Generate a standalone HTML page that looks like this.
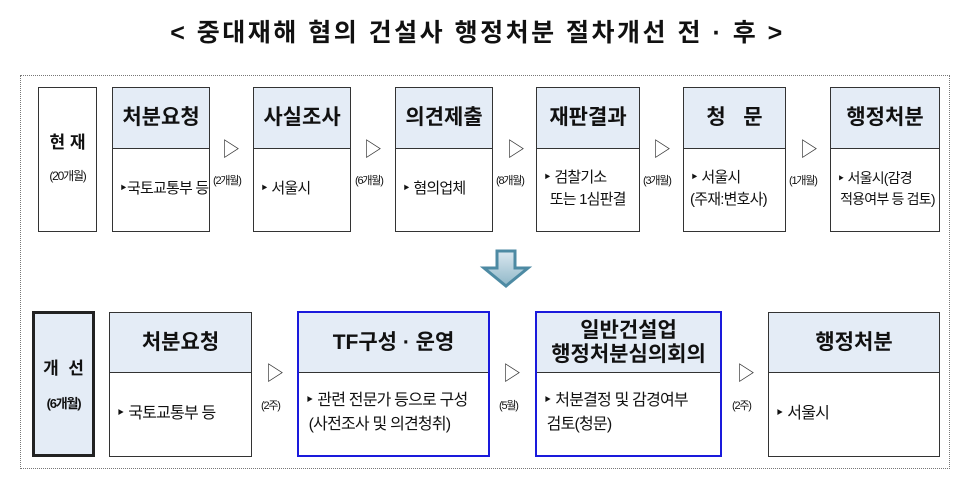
<!DOCTYPE html>
<html><head><meta charset="utf-8"><style>
*{margin:0;padding:0;box-sizing:border-box}
body{width:955px;height:477px;background:#fff;position:relative;overflow:hidden;font-family:"Liberation Sans","Noto Sans CJK KR","NanumGothic",sans-serif;color:#111}
.a{position:absolute}
.box{position:absolute;border:1.5px solid #333;background:#fff}
.hd{position:absolute;left:0;right:0;top:0;background:#e4ecf6;border-bottom:1.5px solid #333;display:flex;align-items:center;justify-content:center;font-weight:bold;font-size:21px;text-align:center;line-height:1.1}
.bd{position:absolute;left:0;right:0;bottom:0;display:flex;align-items:center;padding-left:6px;font-size:15px;line-height:1.5;letter-spacing:-0.8px}
.tri{position:absolute;font-size:20px;color:#333;transform:scaleX(0.9)}
.lb{position:absolute;font-size:11px;letter-spacing:-1.2px}
.blue{border:2.5px solid #1a1adc}
</style></head><body>
<div class="a" style="left:0;top:13px;width:955px;text-align:center;font-size:25px;font-weight:bold;letter-spacing:2.5px">&lt; 중대재해 혐의 건설사 행정처분 절차개선 전 · 후 &gt;</div>
<div class="a" style="left:20px;top:75px;width:930px;height:394px;border:1px dotted #777"></div>

<div class="box" style="left:38px;top:87px;width:59px;height:145px;text-align:center">
<div style="margin-top:40px;font-weight:bold;font-size:17px">현 재</div>
<div style="margin-top:14px;font-size:12px;letter-spacing:-1.2px">(20개월)</div></div>

<div class="box" style="left:112px;top:87px;width:98px;height:145px"><div class="hd" style="height:61px">처분요청</div><div class="bd" style="height:84px">‣국토교통부 등</div></div>
<div class="box" style="left:253px;top:87px;width:98px;height:145px"><div class="hd" style="height:61px">사실조사</div><div class="bd" style="height:84px">‣ 서울시</div></div>
<div class="box" style="left:395px;top:87px;width:98px;height:145px"><div class="hd" style="height:61px">의견제출</div><div class="bd" style="height:84px">‣ 혐의업체</div></div>
<div class="box" style="left:536px;top:87px;width:104px;height:145px"><div class="hd" style="height:61px">재판결과</div><div class="bd" style="height:84px">‣ 검찰기소<br>&nbsp;&nbsp;또는 1심판결</div></div>
<div class="box" style="left:683px;top:87px;width:103px;height:145px"><div class="hd" style="height:61px">청 &nbsp;&nbsp;문</div><div class="bd" style="height:84px">‣ 서울시<br>(주재:변호사)</div></div>
<div class="box" style="left:830px;top:87px;width:110px;height:145px"><div class="hd" style="height:61px">행정처분</div><div class="bd" style="height:84px;font-size:14px">‣ 서울시(감경<br>&nbsp;적용여부 등 검토)</div></div>

<div class="tri" style="left:221px;top:133px">▷</div><div class="lb" style="left:213px;top:172px">(2개월)</div>
<div class="tri" style="left:363px;top:133px">▷</div><div class="lb" style="left:355px;top:172px">(6개월)</div>
<div class="tri" style="left:506px;top:133px">▷</div><div class="lb" style="left:496px;top:172px">(8개월)</div>
<div class="tri" style="left:652px;top:133px">▷</div><div class="lb" style="left:643px;top:172px">(3개월)</div>
<div class="tri" style="left:799px;top:133px">▷</div><div class="lb" style="left:789px;top:172px">(1개월)</div>

<svg class="a" style="left:478px;top:248px" width="60" height="44"><defs><linearGradient id="g" x1="0" y1="0" x2="0" y2="1"><stop offset="0" stop-color="#dbe8f0"/><stop offset="1" stop-color="#8fb7c8"/></linearGradient></defs>
<path d="M19 3 H37 V20 H50 L28 38 L6 20 H19 Z" fill="url(#g)" stroke="#4d8aa3" stroke-width="3"/></svg>

<div class="box" style="left:32px;top:311px;width:63px;height:146px;border:3px solid #222;background:#e4ecf6;text-align:center">
<div style="margin-top:40px;font-weight:bold;font-size:17px">개 &nbsp;선</div>
<div style="margin-top:14px;font-size:13px;font-weight:bold;letter-spacing:-1.2px">(6개월)</div></div>

<div class="box" style="left:109px;top:312px;width:143px;height:145px"><div class="hd" style="height:60px">처분요청</div><div class="bd" style="height:85px;font-size:16px">‣ 국토교통부 등</div></div>
<div class="box blue" style="left:297px;top:311px;width:193px;height:146px"><div class="hd" style="height:60px">TF구성 · 운영</div><div class="bd" style="height:84px;font-size:16px">‣ 관련 전문가 등으로 구성<br>&nbsp;(사전조사 및 의견청취)</div></div>
<div class="box blue" style="left:535px;top:311px;width:187px;height:146px"><div class="hd" style="height:60px">일반건설업<br>행정처분심의회의</div><div class="bd" style="height:84px;font-size:16px">‣ 처분결정 및 감경여부<br>&nbsp;검토(청문)</div></div>
<div class="box" style="left:768px;top:312px;width:172px;height:145px"><div class="hd" style="height:60px">행정처분</div><div class="bd" style="height:85px;font-size:16px">‣ 서울시</div></div>

<div class="tri" style="left:265px;top:357px">▷</div><div class="lb" style="left:261px;top:397px">(2주)</div>
<div class="tri" style="left:502px;top:357px">▷</div><div class="lb" style="left:499px;top:397px">(5월)</div>
<div class="tri" style="left:736px;top:357px">▷</div><div class="lb" style="left:732px;top:397px">(2주)</div>
</body></html>
